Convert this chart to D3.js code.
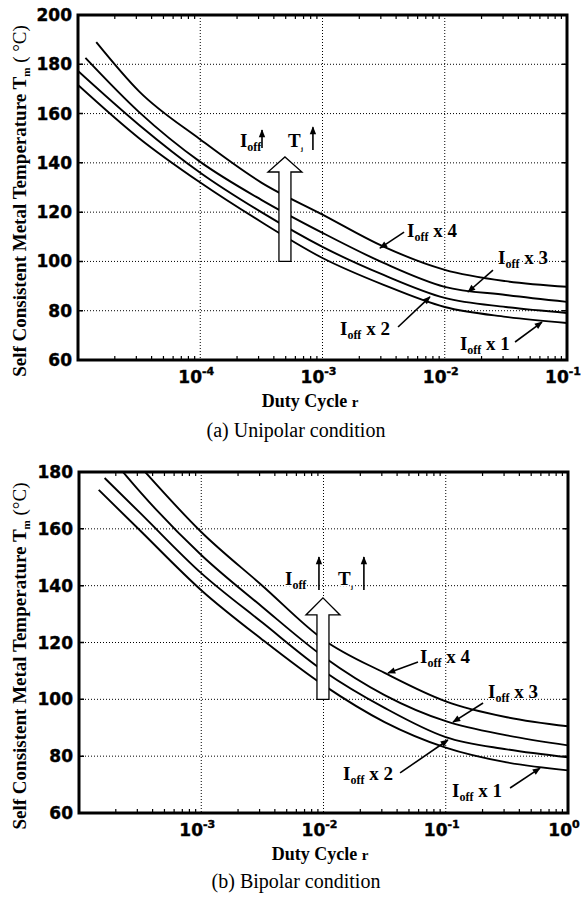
<!DOCTYPE html>
<html>
<head>
<meta charset="utf-8">
<script src="https://cdn.jsdelivr.net/npm/d3@7"></script>
<style>
  body { margin: 0; background: #fff; }
  svg { display: block; }
</style>
</head>
<body>
<svg id="fig" width="585" height="898"></svg>
<script>
// ---- (a) unipolar ----
const uniDomain = [1e-5, 1e-1];
const uniTicks = [1e-4, 1e-3, 1e-2, 1e-1];
const uniTemps = [60, 80, 100, 120, 140, 160, 180, 200];
const uniX1 = [[1e-5,171.6],[3.16e-5,150],[1e-4,132],[3.16e-4,116],[1e-3,101.4],[3.16e-3,90.5],[1e-2,81.5],[3.16e-2,77.5],[1e-1,75]];
const uniX2 = [[1e-5,177.3],[3.16e-5,155.4],[1e-4,136],[3.16e-4,120],[1e-3,105.9],[3.16e-3,94.5],[1e-2,85.2],[3.16e-2,81.5],[1e-1,79.1]];
const uniX3 = [[1.15e-5,182.6],[3.16e-5,160.6],[1e-4,140.4],[3.16e-4,125],[1e-3,111.6],[3.16e-3,99.4],[1e-2,89.7],[3.16e-2,86.4],[1e-1,83.6]];
const uniX4 = [[1.41e-5,189],[3.16e-5,169],[1e-4,149.5],[3.16e-4,132],[1e-3,119],[3.16e-3,106],[1e-2,96.6],[3.16e-2,92],[1e-1,89.7]];
// label anchors in data units: text start, arrow tail, arrow tip
const uniLabels = [
  {n:"4", at:[4.91e-3,109.9], tail:[4.65e-3,111.9], tip:[2.95e-3,105.4]},
  {n:"3", at:[0.0273,98.9],  tail:[0.0248,96.5],  tip:[0.0155,87.6]},
  {n:"2", at:[1.39e-3,70.1], tail:[4.15e-3,73.4], tip:[7.57e-3,85.6]},
  {n:"1", at:[0.0133,64],    tail:[0.0376,67.3],  tip:[0.0625,75.4]}
];
const uniNote = {ioff:[2.11e-4,146.4], up1:[3.2e-4,146,153.3], tj:[5.22e-4,146.4], up2:[8.35e-4,145.2,154.5],
                 big:[4.93e-4,100,136.3,142.4]};

// ---- (b) bipolar ----
const bipDomain = [1e-4, 1];
const bipTicks = [1e-3, 1e-2, 1e-1, 1];
const bipTemps = [60, 80, 100, 120, 140, 160, 180];
const bipX1 = [[1.45e-4,173.7],[3.16e-4,159.4],[1e-3,138.4],[3.16e-3,121],[1e-2,105],[3.16e-2,92],[1e-1,83],[3.16e-1,77.8],[1,75]];
const bipX2 = [[1.62e-4,177.9],[3.16e-4,165.6],[1e-3,144.4],[3.16e-3,127],[1e-2,110],[3.16e-2,97],[1e-1,86.7],[3.16e-1,82.4],[1,79.6]];
const bipX3 = [[2.0e-4,183],[3.16e-4,173],[1e-3,150.8],[3.16e-3,132.5],[1e-2,115],[3.16e-2,101.5],[1e-1,92.3],[3.16e-1,87.3],[1,83.8]];
const bipX4 = [[3.16e-4,182],[1e-3,158.9],[3.16e-3,140],[1e-2,121],[3.16e-2,109.3],[1e-1,99.3],[3.16e-1,93.7],[1,90.5]];
const bipLabels = [
  {n:"4", at:[0.0617,112.8], tail:[0.0593,113.1], tip:[0.0337,109.3]},
  {n:"3", at:[0.222,100.5],  tail:[0.202,98.7],   tip:[0.1146,92]},
  {n:"2", at:[0.01445,71.6], tail:[0.0423,74.1],  tip:[0.1042,85.7]},
  {n:"1", at:[0.1125,65.6],  tail:[0.336,68.8],   tip:[0.590,75.8]}
];
const bipNote = {ioff:[4.84e-3,140.2], up1:[9.18e-3,138.5,150.1], tj:[0.01315,140.2], up2:[0.0214,138.5,150.1],
                 big:[9.9e-3,100,129.7,135.7]};

const serif = "'Liberation Serif','Times New Roman',serif";
const sans = "'DejaVu Sans',sans-serif";

const svg = d3.select('#fig');
const defs = svg.append('defs');
defs.append('marker').attr('id', 'head')
    .attr('viewBox', '0 0 10 10').attr('refX', 9).attr('refY', 5)
    .attr('markerWidth', 10).attr('markerHeight', 8).attr('markerUnits', 'userSpaceOnUse')
    .attr('orient', 'auto')
    .append('path').attr('d', 'M0,1 L10,5 L0,9 z').attr('fill', '#000');

function drawPanel(cfg) {
    const x = d3.scaleLog().domain(cfg.domain).range([cfg.left, cfg.right]);
    const y = d3.scaleLinear().domain([cfg.temps[0], cfg.temps[cfg.temps.length-1]]).range([cfg.bottom, cfg.top]);
    const g = svg.append('g');

    defs.append('clipPath').attr('id', cfg.id)
        .append('rect').attr('x', cfg.left).attr('y', cfg.top)
        .attr('width', cfg.right - cfg.left).attr('height', cfg.bottom - cfg.top);

    // dotted grid
    g.selectAll('.vgrid').data(cfg.ticks.slice(0, -1)).join('line')
        .attr('x1', d => x(d)).attr('x2', d => x(d))
        .attr('y1', cfg.top).attr('y2', cfg.bottom)
        .attr('stroke', '#000').attr('stroke-width', 1).attr('stroke-dasharray', '1,2');
    g.selectAll('.hgrid').data(cfg.temps.slice(1, -1)).join('line')
        .attr('x1', cfg.left).attr('x2', cfg.right)
        .attr('y1', d => y(d)).attr('y2', d => y(d))
        .attr('stroke', '#000').attr('stroke-width', 1).attr('stroke-dasharray', '1,2');

    // minor log ticks on top/bottom edges
    const minor = [];
    const lo = Math.round(Math.log10(cfg.domain[0])), hi = Math.round(Math.log10(cfg.domain[1]));
    for (let k = lo; k < hi; k++) for (let m = 2; m < 10; m++) minor.push(m * Math.pow(10, k));
    g.selectAll('.mtick').data(minor).join('path')
        .attr('d', d => `M${x(d)},${cfg.bottom}v-4M${x(d)},${cfg.top}v4`)
        .attr('stroke', '#000').attr('stroke-width', 1.2);
    g.selectAll('.ytick').data(cfg.temps).join('path')
        .attr('d', d => `M${cfg.left},${y(d)}h5M${cfg.right},${y(d)}h-5`)
        .attr('stroke', '#000').attr('stroke-width', 1.5);

    // curves
    const line = d3.line().x(d => x(d[0])).y(d => y(d[1])).curve(d3.curveMonotoneX);
    g.append('g').attr('clip-path', `url(#${cfg.id})`)
        .selectAll('path').data(cfg.series).join('path')
        .attr('d', line).attr('fill', 'none').attr('stroke', '#000').attr('stroke-width', 1.9);

    // frame
    g.append('rect').attr('x', cfg.left).attr('y', cfg.top)
        .attr('width', cfg.right - cfg.left).attr('height', cfg.bottom - cfg.top)
        .attr('fill', 'none').attr('stroke', '#000').attr('stroke-width', 3);

    // y tick labels
    g.selectAll('.ylab').data(cfg.temps).join('text')
        .attr('x', cfg.left - 6).attr('y', d => y(d) + 6)
        .attr('text-anchor', 'end').attr('font-family', sans).attr('font-weight', 'bold')
        .attr('font-size', 17).attr('stroke', '#000').attr('stroke-width', 0.4).text(d => d);

    // x tick labels 10^k
    const xl = g.selectAll('.xlab').data(cfg.ticks).join('text')
        .attr('x', d => x(d) - 4).attr('y', cfg.bottom + 23)
        .attr('text-anchor', 'middle').attr('font-family', sans).attr('font-weight', 'bold')
        .attr('font-size', 17).attr('stroke', '#000').attr('stroke-width', 0.4);
    xl.append('tspan').text('10');
    xl.append('tspan').attr('dy', -8).attr('font-size', 11)
        .text(d => { const e = Math.round(Math.log10(d)); return e === 0 ? '0' : '-' + (-e); });

    // x title
    const xt = g.append('text').attr('x', cfg.xTitleX).attr('y', cfg.bottom + 47)
        .attr('text-anchor', 'middle').attr('font-family', serif).attr('font-weight', 'bold')
        .attr('font-size', 18);
    xt.append('tspan').text('Duty Cycle  ');
    xt.append('tspan').attr('font-size', 15).text('r');

    // y title
    const cy = cfg.yTitleY;
    const yt = g.append('text').attr('transform', `translate(26,${cy}) rotate(-90)`)
        .attr('text-anchor', 'middle').attr('font-family', serif).attr('font-weight', 'bold')
        .attr('font-size', 19);
    yt.append('tspan').text('Self Consistent Metal Temperature  T');
    yt.append('tspan').attr('font-size', 11).attr('dy', 4).text('m');
    yt.append('tspan').attr('dy', -4).attr('font-weight', 'normal').text(cfg.unit);

    // caption
    g.append('text').attr('x', 296).attr('y', cfg.captionY)
        .attr('text-anchor', 'middle').attr('font-family', serif).attr('font-size', 20)
        .text(cfg.caption);

    // curve labels with arrows
    cfg.labels.forEach(l => {
        g.append('line')
            .attr('x1', x(l.tail[0])).attr('y1', y(l.tail[1]))
            .attr('x2', x(l.tip[0])).attr('y2', y(l.tip[1]))
            .attr('stroke', '#000').attr('stroke-width', 1.6).attr('marker-end', 'url(#head)');
        const t = g.append('text').attr('x', x(l.at[0])).attr('y', y(l.at[1]))
            .attr('font-family', serif).attr('font-weight', 'bold').attr('font-size', 19)
            .style('paint-order', 'stroke').attr('stroke', '#fff').attr('stroke-width', 2);
        t.append('tspan').text('I');
        t.append('tspan').attr('font-size', 12).attr('dy', 4).text('off');
        t.append('tspan').attr('dy', -4).text(' x ' + l.n);
    });

    // I_off up, T_j up note
    const n = cfg.note;
    const t1 = g.append('text').attr('x', x(n.ioff[0])).attr('y', y(n.ioff[1]))
        .attr('font-family', serif).attr('font-weight', 'bold').attr('font-size', 19)
        .style('paint-order', 'stroke').attr('stroke', '#fff').attr('stroke-width', 2);
    t1.append('tspan').text('I');
    t1.append('tspan').attr('font-size', 12).attr('dy', 4).text('off');
    const t2 = g.append('text').attr('x', x(n.tj[0])).attr('y', y(n.tj[1]))
        .attr('font-family', serif).attr('font-weight', 'bold').attr('font-size', 19)
        .style('paint-order', 'stroke').attr('stroke', '#fff').attr('stroke-width', 2);
    t2.append('tspan').text('T');
    t2.append('tspan').attr('font-size', 7).attr('dy', 4).text('j');
    [n.up1, n.up2].forEach(u => {
        g.append('line').attr('x1', x(u[0])).attr('x2', x(u[0]))
            .attr('y1', y(u[1])).attr('y2', y(u[2]))
            .attr('stroke', '#000').attr('stroke-width', 1.6).attr('marker-end', 'url(#head)');
    });

    // big hollow arrow
    const cx = x(n.big[0]), yb = y(n.big[1]), yh = y(n.big[2]), yt2 = y(n.big[3]);
    const sw = 6, hw = 17;
    g.append('path')
        .attr('d', `M${cx-sw},${yb}L${cx-sw},${yh}L${cx-hw},${yh}L${cx},${yt2}L${cx+hw},${yh}L${cx+sw},${yh}L${cx+sw},${yb}Z`)
        .attr('fill', '#fff').attr('stroke', '#000').attr('stroke-width', 1.3);
}

drawPanel({id: 'clipA', domain: uniDomain, ticks: uniTicks, temps: uniTemps,
    left: 78, right: 567, top: 15, bottom: 360,
    series: [uniX1, uniX2, uniX3, uniX4], labels: uniLabels, note: uniNote,
    xTitleX: 310, yTitleY: 201, unit: ' ( °C)', caption: '(a) Unipolar condition', captionY: 437});

drawPanel({id: 'clipB', domain: bipDomain, ticks: bipTicks, temps: bipTemps,
    left: 79, right: 568, top: 472, bottom: 813,
    series: [bipX1, bipX2, bipX3, bipX4], labels: bipLabels, note: bipNote,
    xTitleX: 320, yTitleY: 656, unit: ' (°C)', caption: '(b) Bipolar condition', captionY: 888});
</script>
</body>
</html>
